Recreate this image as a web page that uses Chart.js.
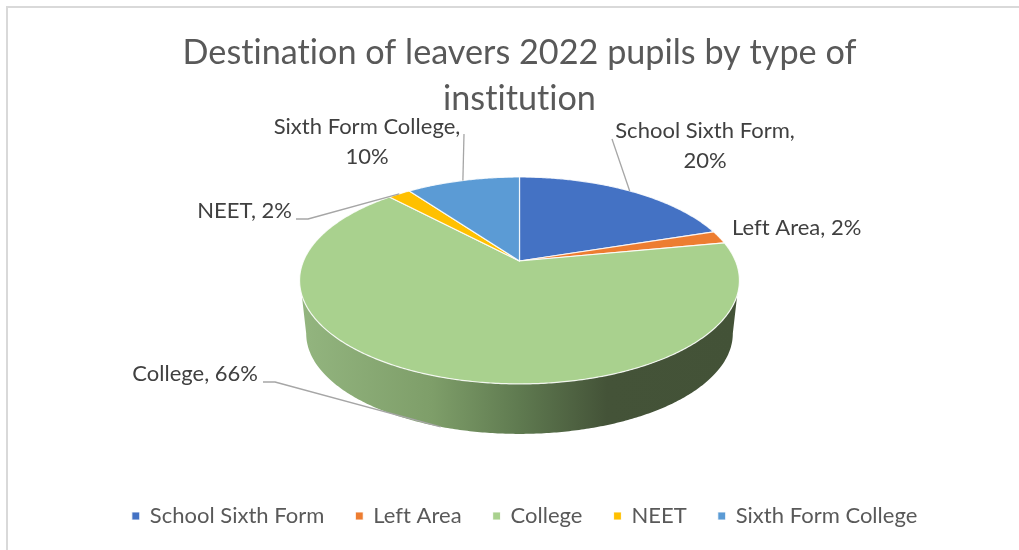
<!DOCTYPE html>
<html>
<head>
<meta charset="utf-8">
<title>Destination of leavers 2022</title>
<script src="https://cdn.jsdelivr.net/npm/chart.js@4"></script>
<style>
  html, body { margin: 0; padding: 0; background: #fff; }
  #wrap { position: relative; width: 1019px; height: 550px; overflow: hidden; }
  #frame { position: absolute; left: 6px; top: 6px; width: 1100px; height: 600px;
           border-left: 2px solid #d9d9d9; border-top: 2px solid #d9d9d9; }
  canvas { position: absolute; left: 0; top: 0; }
</style>
</head>
<body>
<div id="wrap">
  <div id="frame"></div>
  <canvas id="pie" width="1019" height="550"></canvas>
</div>
<script>
const categories = ["School Sixth Form", "Left Area", "College", "NEET", "Sixth Form College"];
const shares = [20, 2, 66, 2, 10];
const sliceColors = ["#4472c4", "#ed7d31", "#a9d18e", "#ffc000", "#5b9bd5"];
const titleLines = ["Destination of leavers 2022 pupils by type of", "institution"];

const FONT = "Lato, Carlito, sans-serif";
const LABEL_COLOR = "#404040";
const LEADER_COLOR = "#a6a6a6";

// tilted disc: circle point (u,v) -> screen, w = 1 - tilt * v keeps the near edge bigger
const top_ = { x: 519.5, y: 261, a: 216, b: 99.8 };
const bottom_ = { x: 519.5, y: 314.7, a: 209.5, b: 96.8 };
const tilt = 0.188;

function project(disc, theta) {
  const u = Math.sin(theta), v = -Math.cos(theta);
  const w = 1 - tilt * v;
  return { x: disc.x + disc.a * u / w, y: disc.y + disc.b * v / w };
}

function traceRim(ctx, disc, from, to) {
  const steps = Math.max(2, Math.ceil(Math.abs(to - from) / 0.01));
  for (let i = 0; i <= steps; i++) {
    const p = project(disc, from + (to - from) * i / steps);
    ctx.lineTo(p.x, p.y);
  }
}

const deg = Math.PI / 180;

function drawSide(ctx) {
  const g = ctx.createLinearGradient(301, 0, 738, 0);
  g.addColorStop(0, "#93b57f");
  g.addColorStop(0.3, "#7e9e69");
  g.addColorStop(0.5, "#5f7a50");
  g.addColorStop(0.7, "#445338");
  g.addColorStop(1, "#435237");
  ctx.beginPath();
  traceRim(ctx, top_, 108.7 * deg, 251.3 * deg);
  traceRim(ctx, bottom_, 259.2 * deg, 100.8 * deg);
  ctx.closePath();
  ctx.fillStyle = g;
  ctx.fill();
}

// label text and leader per slice
const labelPlace = [
  { x: 705, y: 131, align: "center", split: true, leader: [[612, 139]], rim: top_ },
  { x: 732, y: 228, align: "left", split: false },
  { x: 258, y: 374, align: "right", split: false, leader: [[263, 382], [275, 382]], rim: bottom_ },
  { x: 292, y: 211, align: "right", split: false, leader: [[296, 219], [308, 219]], rim: top_ },
  { x: 367, y: 127, align: "center", split: true, leader: [[464, 134]], rim: top_ }
];

const tiltedPie = {
  id: "tiltedPie",
  afterLayout(chart) {
    chart.legend.left += 10;
  },
  beforeDraw(chart) {
    // non-zero spacing switches the "ti" ligature off
    chart.ctx.letterSpacing = "0.01px";
  },
  beforeDatasetDraw(chart) {
    const ctx = chart.ctx;
    const arcs = chart.getDatasetMeta(0).data;
    ctx.save();
    drawSide(ctx);

    arcs.forEach(arc => {
      const a0 = arc.startAngle + Math.PI / 2, a1 = arc.endAngle + Math.PI / 2;
      ctx.beginPath();
      ctx.moveTo(top_.x, top_.y);
      traceRim(ctx, top_, a0, a1);
      ctx.closePath();
      ctx.fillStyle = arc.options.backgroundColor;
      ctx.fill();
      ctx.lineWidth = arc.options.borderWidth;
      ctx.strokeStyle = arc.options.borderColor;
      ctx.lineJoin = "round";
      ctx.stroke();
    });

    // leaders and labels
    const total = shares.reduce((s, v) => s + v, 0);
    arcs.forEach((arc, i) => {
      const place = labelPlace[i];
      if (place.leader) {
        const mid = (arc.startAngle + arc.endAngle) / 2 + Math.PI / 2;
        const end = project(place.rim, mid);
        ctx.beginPath();
        place.leader.forEach((p, k) => k ? ctx.lineTo(p[0], p[1]) : ctx.moveTo(p[0], p[1]));
        ctx.lineTo(end.x, end.y);
        ctx.lineWidth = 1.3;
        ctx.strokeStyle = LEADER_COLOR;
        ctx.stroke();
      }
      const pct = Math.round(shares[i] / total * 100) + "%";
      ctx.font = "22px " + FONT;
      ctx.fillStyle = LABEL_COLOR;
      ctx.textAlign = place.align;
      ctx.textBaseline = "middle";
      if (place.split) {
        ctx.fillText(categories[i] + ",", place.x, place.y);
        ctx.fillText(pct, place.x, place.y + 29.5);
      } else {
        ctx.fillText(categories[i] + ", " + pct, place.x, place.y);
      }
    });
    ctx.restore();
    return false;
  }
};

new Chart(document.getElementById("pie"), {
  type: "pie",
  plugins: [tiltedPie],
  data: {
    labels: categories,
    datasets: [{
      data: shares,
      backgroundColor: sliceColors,
      borderColor: "rgba(255,255,255,0.85)",
      borderWidth: 1.2
    }]
  },
  options: {
    responsive: false,
    animation: false,
    layout: { padding: { top: 30, bottom: 13, left: 20 } },
    plugins: {
      tooltip: { enabled: false },
      title: {
        display: true,
        text: titleLines,
        color: "#595959",
        font: { family: FONT, size: 34.2, weight: "normal", lineHeight: 1.34 },
        padding: { top: 0, bottom: 10 }
      },
      legend: {
        position: "bottom",
        labels: {
          color: "#595959",
          font: { family: FONT, size: 22 },
          usePointStyle: true,
          pointStyle: "rect",
          boxWidth: 6,
          boxHeight: 8,
          padding: 32
        }
      }
    }
  }
});
</script>
</body>
</html>
